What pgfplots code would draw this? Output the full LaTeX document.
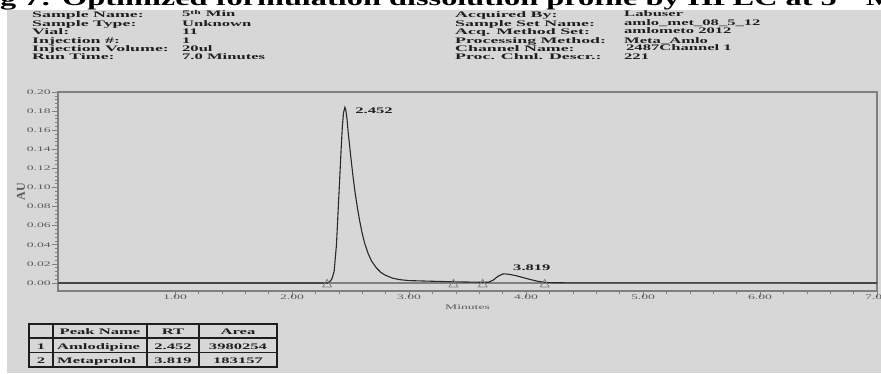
\documentclass[border=0pt]{standalone}
\usepackage{fontspec}
\setmainfont{Liberation Serif}
\usepackage{pgfplots}
\pgfplotsset{compat=1.18}
\definecolor{bg}{RGB}{215,215,215}
\definecolor{axgray}{RGB}{128,128,128}
\definecolor{tickgray}{RGB}{90,90,90}
\definecolor{ink}{RGB}{30,30,30}
\definecolor{sig}{RGB}{40,40,40}
\newcommand{\W}[1]{\scalebox{2.1}[1]{#1}}
\newcommand{\V}[1]{\scalebox{1.95}[1]{#1}}
\newcommand{\T}[1]{\scalebox{1.54}[1]{#1}}
\begin{document}
\begin{tikzpicture}[x=1pt,y=1pt]
\useasboundingbox (0,0) rectangle (881,373);
\clip (0,0) rectangle (881,373);
\fill[white] (0,0) rectangle (881,373);
\fill[bg] (7,0) rectangle (881,363);
% title (cut off at top)
\node[anchor=base east, inner sep=0pt, font=\fontsize{21}{21}\selectfont\bfseries] at (0,367) {\T{Fi}};
\node[anchor=base west, inner sep=0pt, font=\fontsize{21}{21}\selectfont\bfseries] at (0,367) {\T{g 7: Optimized formulation dissolution profile by HPLC at 5\textsuperscript{th} Min}};
% header block
\begin{scope}[every node/.style={anchor=base west, inner sep=0pt, font=\fontsize{8.5}{9}\selectfont\bfseries, text=ink}]
\node at (32,355) {\W{Sample Name:}};
\node at (32,346) {\W{Sample Type:}};
\node at (32,338) {\W{Vial:}};
\node at (32,329) {\W{Injection \#:}};
\node at (32,321) {\W{Injection Volume:}};
\node at (32,313) {\W{Run Time:}};
\node at (182,356) {\V{5\textsuperscript{th} Min}};
\node at (182,346) {\V{Unknown}};
\node at (182,338) {\V{11}};
\node at (182,329) {\V{1}};
\node at (182,321) {\V{20ul}};
\node at (182,313) {\V{7.0 Minutes}};
\node at (455,355) {\W{Acquired By:}};
\node at (455,346) {\W{Sample Set Name:}};
\node at (455,338) {\W{Acq. Method Set:}};
\node at (455,329) {\W{Processing Method:}};
\node at (455,321) {\W{Channel Name:}};
\node at (455,313) {\W{Proc. Chnl. Descr.:}};
\node at (624,356) {\V{Labuser}};
\node at (624,347) {\V{amlo\_met\_08\_5\_12}};
\node at (624,339) {\V{amlometo 2012}};
\node at (624,329) {\V{Meta\_Amlo}};
\node at (626,322) {\V{2487Channel 1}};
\node at (624,313) {\V{221}};
\end{scope}
\begin{axis}[
  at={(58pt,82pt)}, anchor=south west, scale only axis,
  width=819pt, height=199pt,
  xmin=0, xmax=7, ymin=-0.0084, ymax=0.20,
  axis line style={draw=axgray, line width=1.1pt},
  xtick={1,2,3,4,5,6,7},
  xticklabels={\V{1.00},\V{2.00},\V{3.00},\V{4.00},\V{5.00},\V{6.00},\V{7.00}},
  ytick={0,0.02,0.04,0.06,0.08,0.10,0.12,0.14,0.16,0.18,0.20},
  yticklabels={\V{0.00},\V{0.02},\V{0.04},\V{0.06},\V{0.08},\V{0.10},\V{0.12},\V{0.14},\V{0.16},\V{0.18},\V{0.20}},
  minor x tick num=4, minor y tick num=4,
  tick align=outside, xtick pos=bottom, ytick pos=left,
  major tick length=6pt, minor tick length=3pt,
  tick style={draw=axgray, line width=0.6pt},
  tick label style={font=\fontsize{7}{7}\selectfont, text=tickgray},
  xticklabel style={anchor=north, inner sep=1pt, yshift=3pt},
  yticklabel style={anchor=east, inner sep=1pt},
  xlabel={\V{Minutes}}, ylabel={\textbf{AU}},
  every axis x label/.style={at={(rel axis cs:0.5,0)}, anchor=center, yshift=-16pt, font=\fontsize{7}{7}\selectfont, text=tickgray},
  every axis y label/.style={at={(rel axis cs:0,0.5)}, anchor=center, xshift=-37pt, rotate=90, font=\fontsize{12}{12}\selectfont, text=tickgray},
  clip=false,
]
\addplot[draw=axgray, line width=1.6pt, forget plot] coordinates {(0,0) (7,0)};
\addplot[draw=sig, line width=1.1pt] coordinates {
(0,0) (2.30,0) (2.32,0.001) (2.34,0.004) (2.36,0.012) (2.38,0.040) (2.40,0.090)
(2.42,0.140) (2.43,0.163) (2.44,0.178) (2.452,0.184) (2.46,0.181) (2.47,0.172)
(2.48,0.158) (2.50,0.135) (2.52,0.113) (2.54,0.094) (2.56,0.078) (2.58,0.064)
(2.60,0.052) (2.62,0.042) (2.65,0.031) (2.68,0.023) (2.72,0.016) (2.76,0.011)
(2.80,0.008) (2.86,0.005) (2.92,0.0035) (3.00,0.0025) (3.20,0.0018) (3.40,0.0012)
(3.60,0.0008) (3.68,0.0008) (3.72,0.003) (3.76,0.007) (3.80,0.0094) (3.82,0.0095)
(3.86,0.009) (3.92,0.0075) (3.98,0.0055) (4.04,0.0035) (4.10,0.0018) (4.16,0.0006)
(4.25,0.0002) (5.0,0.0001) (7.0,0)};
\addplot[only marks, mark=triangle, mark size=5pt, mark options={draw=axgray, line width=0.8pt}] coordinates {
(2.30,-0.0015) (3.38,-0.0015) (3.63,-0.0015) (4.16,-0.0015)};
\node[anchor=base west, inner sep=0pt, font=\fontsize{8.5}{9}\selectfont\bfseries, text=ink] at (axis cs:2.54,0.177) {\V{2.452}};
\node[anchor=base west, inner sep=0pt, font=\fontsize{8.5}{9}\selectfont\bfseries, text=ink] at (axis cs:3.889,0.0126) {\V{3.819}};
\end{axis}
% peak table
\begin{scope}[line width=1.3pt, draw=ink]
\draw (29,49) rectangle (277,6);
\draw (29,35) -- (277,35);
\draw (29,20.5) -- (277,20.5);
\draw (53,49) -- (53,6);
\draw (147,49) -- (147,6);
\draw (199,49) -- (199,6);
\end{scope}
\begin{scope}[every node/.style={anchor=base, inner sep=0pt, font=\fontsize{8.5}{9}\selectfont\bfseries, text=ink}]
\node at (100,38.5) {\V{Peak Name}};
\node at (173,38.5) {\V{RT}};
\node at (238,38.5) {\V{Area}};
\node at (41,24) {\V{1}};
\node[anchor=base west] at (57,24) {\V{Amlodipine}};
\node at (173,24) {\V{2.452}};
\node at (238,24) {\V{3980254}};
\node at (41,9.5) {\V{2}};
\node[anchor=base west] at (57,9.5) {\V{Metaprolol}};
\node at (173,9.5) {\V{3.819}};
\node at (238,9.5) {\V{183157}};
\end{scope}
\end{tikzpicture}
\end{document}
